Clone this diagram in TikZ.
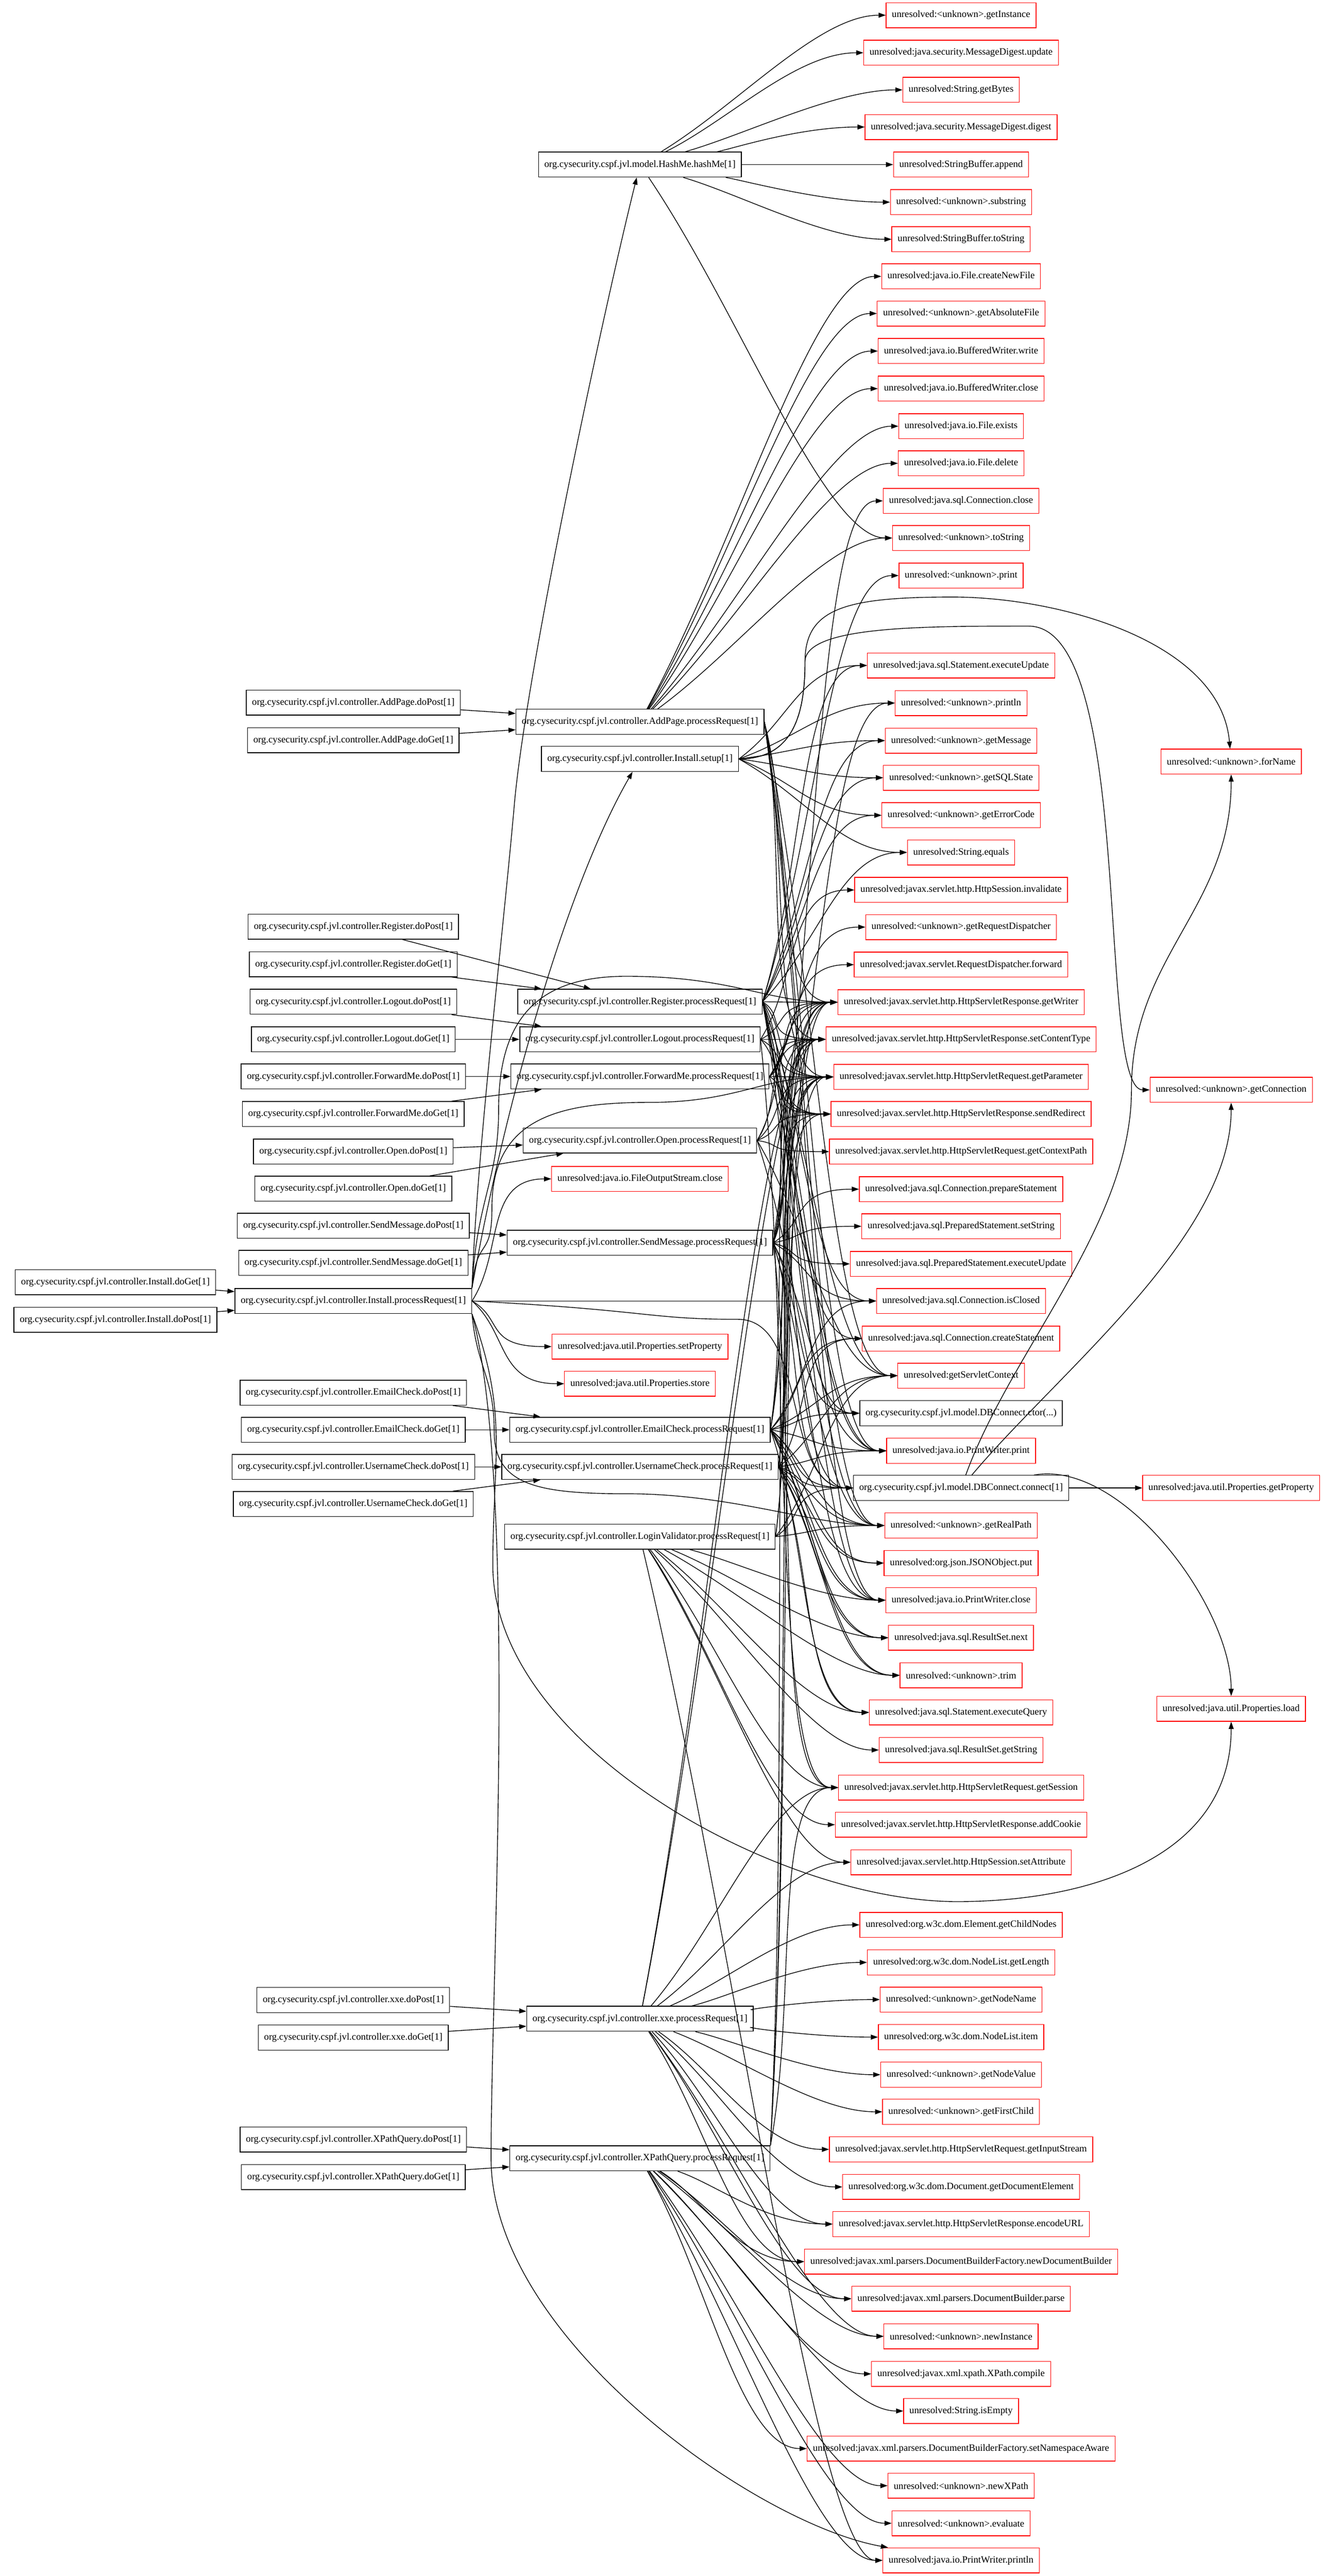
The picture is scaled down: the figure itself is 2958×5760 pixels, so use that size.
\documentclass[tikz,border=0pt]{standalone}
\usepackage{fontspec}
\setmainfont{Liberation Serif}
\usetikzlibrary{arrows.meta,calc}

\begin{document}
\begin{tikzpicture}[x=0.5pt,y=-0.5pt,
  fn/.style={draw,line width=0.8pt,minimum height=28pt,inner xsep=6.5pt,inner ysep=0pt,font=\fontsize{10.8}{13}\selectfont},
  ext/.style={fn,draw=red},
  arr/.style={line width=0.8pt,-{Triangle[length=8pt,width=5.5pt]}},
  call/.style={arr,to path={.. controls ($(\tikztostart)!0.4!(\tikztotarget.west)$) and ($(\tikztotarget.west)+(-150,0)$) .. (\tikztotarget)}}]
\useasboundingbox (0,0) rectangle (2958,5760);

\node[fn] (instget) at (258,2867) {org.cysecurity.cspf.jvl.controller.Install.doGet[1]};
\node[fn] (instpost) at (258,2951) {org.cysecurity.cspf.jvl.controller.Install.doPost[1]};

\node[fn] (addpost) at (790,1571) {org.cysecurity.cspf.jvl.controller.AddPage.doPost[1]};
\node[fn] (addget) at (790,1655) {org.cysecurity.cspf.jvl.controller.AddPage.doGet[1]};
\node[fn] (regpost) at (790,2072) {org.cysecurity.cspf.jvl.controller.Register.doPost[1]};
\node[fn] (regget) at (790,2156) {org.cysecurity.cspf.jvl.controller.Register.doGet[1]};
\node[fn] (logpost) at (790,2240) {org.cysecurity.cspf.jvl.controller.Logout.doPost[1]};
\node[fn] (logget) at (790,2324) {org.cysecurity.cspf.jvl.controller.Logout.doGet[1]};
\node[fn] (fwdpost) at (790,2407) {org.cysecurity.cspf.jvl.controller.ForwardMe.doPost[1]};
\node[fn] (fwdget) at (790,2491) {org.cysecurity.cspf.jvl.controller.ForwardMe.doGet[1]};
\node[fn] (openpost) at (790,2575) {org.cysecurity.cspf.jvl.controller.Open.doPost[1]};
\node[fn] (openget) at (790,2658) {org.cysecurity.cspf.jvl.controller.Open.doGet[1]};
\node[fn] (sendpost) at (790,2741) {org.cysecurity.cspf.jvl.controller.SendMessage.doPost[1]};
\node[fn] (sendget) at (790,2824) {org.cysecurity.cspf.jvl.controller.SendMessage.doGet[1]};
\node[fn] (instpr) at (790,2909) {org.cysecurity.cspf.jvl.controller.Install.processRequest[1]};
\node[fn] (emailpost) at (790,3114) {org.cysecurity.cspf.jvl.controller.EmailCheck.doPost[1]};
\node[fn] (emailget) at (790,3197) {org.cysecurity.cspf.jvl.controller.EmailCheck.doGet[1]};
\node[fn] (userpost) at (790,3280) {org.cysecurity.cspf.jvl.controller.UsernameCheck.doPost[1]};
\node[fn] (userget) at (790,3363) {org.cysecurity.cspf.jvl.controller.UsernameCheck.doGet[1]};
\node[fn] (xxepost) at (790,4472) {org.cysecurity.cspf.jvl.controller.xxe.doPost[1]};
\node[fn] (xxeget) at (790,4556) {org.cysecurity.cspf.jvl.controller.xxe.doGet[1]};
\node[fn] (xpathpost) at (790,4784) {org.cysecurity.cspf.jvl.controller.XPathQuery.doPost[1]};
\node[fn] (xpathget) at (790,4868) {org.cysecurity.cspf.jvl.controller.XPathQuery.doGet[1]};

\node[fn] (hash) at (1431,368) {org.cysecurity.cspf.jvl.model.HashMe.hashMe[1]};
\node[fn] (addpr) at (1431,1614) {org.cysecurity.cspf.jvl.controller.AddPage.processRequest[1]};
\node[fn] (setup) at (1431,1697) {org.cysecurity.cspf.jvl.controller.Install.setup[1]};
\node[fn] (regpr) at (1431,2240) {org.cysecurity.cspf.jvl.controller.Register.processRequest[1]};
\node[fn] (logpr) at (1431,2324) {org.cysecurity.cspf.jvl.controller.Logout.processRequest[1]};
\node[fn] (fwdpr) at (1431,2407) {org.cysecurity.cspf.jvl.controller.ForwardMe.processRequest[1]};
\node[fn] (openpr) at (1431,2550) {org.cysecurity.cspf.jvl.controller.Open.processRequest[1]};
\node[ext] (fosc) at (1431,2636) {unresolved:java.io.FileOutputStream.close};
\node[fn] (sendpr) at (1431,2779) {org.cysecurity.cspf.jvl.controller.SendMessage.processRequest[1]};
\node[ext] (setprop) at (1431,3011) {unresolved:java.util.Properties.setProperty};
\node[ext] (store) at (1431,3094) {unresolved:java.util.Properties.store};
\node[fn] (emailpr) at (1431,3197) {org.cysecurity.cspf.jvl.controller.EmailCheck.processRequest[1]};
\node[fn] (userpr) at (1431,3280) {org.cysecurity.cspf.jvl.controller.UsernameCheck.processRequest[1]};
\node[fn] (loginpr) at (1431,3436) {org.cysecurity.cspf.jvl.controller.LoginValidator.processRequest[1]};
\node[fn] (xxepr) at (1431,4514) {org.cysecurity.cspf.jvl.controller.xxe.processRequest[1]};
\node[fn] (xpathpr) at (1431,4826) {org.cysecurity.cspf.jvl.controller.XPathQuery.processRequest[1]};

\node[ext] (gi) at (2149,34) {unresolved:<unknown>.getInstance};
\node[ext] (mdu) at (2149,118) {unresolved:java.security.MessageDigest.update};
\node[ext] (gb) at (2149,201) {unresolved:String.getBytes};
\node[ext] (mdd) at (2149,284) {unresolved:java.security.MessageDigest.digest};
\node[ext] (sba) at (2149,368) {unresolved:StringBuffer.append};
\node[ext] (sub) at (2149,452) {unresolved:<unknown>.substring};
\node[ext] (sbt) at (2149,535) {unresolved:StringBuffer.toString};
\node[ext] (fcn) at (2149,618) {unresolved:java.io.File.createNewFile};
\node[ext] (gaf) at (2149,701) {unresolved:<unknown>.getAbsoluteFile};
\node[ext] (bww) at (2149,785) {unresolved:java.io.BufferedWriter.write};
\node[ext] (bwc) at (2149,869) {unresolved:java.io.BufferedWriter.close};
\node[ext] (fex) at (2149,953) {unresolved:java.io.File.exists};
\node[ext] (fdel) at (2149,1036) {unresolved:java.io.File.delete};
\node[ext] (ccl) at (2149,1120) {unresolved:java.sql.Connection.close};
\node[ext] (uts) at (2149,1203) {unresolved:<unknown>.toString};
\node[ext] (upr) at (2149,1287) {unresolved:<unknown>.print};
\node[ext] (seu) at (2149,1488) {unresolved:java.sql.Statement.executeUpdate};
\node[ext] (upl) at (2149,1572) {unresolved:<unknown>.println};
\node[ext] (gmsg) at (2149,1656) {unresolved:<unknown>.getMessage};
\node[ext] (gsql) at (2149,1739) {unresolved:<unknown>.getSQLState};
\node[ext] (gerr) at (2149,1823) {unresolved:<unknown>.getErrorCode};
\node[ext] (seq) at (2149,1906) {unresolved:String.equals};
\node[ext] (hsi) at (2149,1990) {unresolved:javax.servlet.http.HttpSession.invalidate};
\node[ext] (grd) at (2149,2073) {unresolved:<unknown>.getRequestDispatcher};
\node[ext] (rdf) at (2149,2157) {unresolved:javax.servlet.RequestDispatcher.forward};
\node[ext] (gwr) at (2149,2241) {unresolved:javax.servlet.http.HttpServletResponse.getWriter};
\node[ext] (sct) at (2149,2324) {unresolved:javax.servlet.http.HttpServletResponse.setContentType};
\node[ext] (gpar) at (2149,2408) {unresolved:javax.servlet.http.HttpServletRequest.getParameter};
\node[ext] (srd) at (2149,2491) {unresolved:javax.servlet.http.HttpServletResponse.sendRedirect};
\node[ext] (gcp) at (2149,2575) {unresolved:javax.servlet.http.HttpServletRequest.getContextPath};
\node[ext] (cps) at (2149,2659) {unresolved:java.sql.Connection.prepareStatement};
\node[ext] (pss) at (2149,2742) {unresolved:java.sql.PreparedStatement.setString};
\node[ext] (pseu) at (2149,2826) {unresolved:java.sql.PreparedStatement.executeUpdate};
\node[ext] (cic) at (2149,2909) {unresolved:java.sql.Connection.isClosed};
\node[ext] (ccs) at (2149,2993) {unresolved:java.sql.Connection.createStatement};
\node[ext] (gsc) at (2149,3076) {unresolved:getServletContext};
\node[fn] (dbc) at (2149,3160) {org.cysecurity.cspf.jvl.model.DBConnect.ctor(...)};
\node[ext] (pwp) at (2149,3244) {unresolved:java.io.PrintWriter.print};
\node[fn] (dbconn) at (2149,3327) {org.cysecurity.cspf.jvl.model.DBConnect.connect[1]};
\node[ext] (grp) at (2149,3411) {unresolved:<unknown>.getRealPath};
\node[ext] (jput) at (2149,3495) {unresolved:org.json.JSONObject.put};
\node[ext] (pwc) at (2149,3578) {unresolved:java.io.PrintWriter.close};
\node[ext] (rsn) at (2149,3662) {unresolved:java.sql.ResultSet.next};
\node[ext] (trim) at (2149,3746) {unresolved:<unknown>.trim};
\node[ext] (sxq) at (2149,3829) {unresolved:java.sql.Statement.executeQuery};
\node[ext] (rsg) at (2149,3913) {unresolved:java.sql.ResultSet.getString};
\node[ext] (gses) at (2149,3997) {unresolved:javax.servlet.http.HttpServletRequest.getSession};
\node[ext] (acook) at (2149,4080) {unresolved:javax.servlet.http.HttpServletResponse.addCookie};
\node[ext] (hssa) at (2149,4164) {unresolved:javax.servlet.http.HttpSession.setAttribute};
\node[ext] (gcn) at (2149,4304) {unresolved:org.w3c.dom.Element.getChildNodes};
\node[ext] (ngl) at (2149,4388) {unresolved:org.w3c.dom.NodeList.getLength};
\node[ext] (gnn) at (2149,4471) {unresolved:<unknown>.getNodeName};
\node[ext] (nli) at (2149,4555) {unresolved:org.w3c.dom.NodeList.item};
\node[ext] (gnv) at (2149,4639) {unresolved:<unknown>.getNodeValue};
\node[ext] (gfc) at (2149,4722) {unresolved:<unknown>.getFirstChild};
\node[ext] (gis) at (2149,4806) {unresolved:javax.servlet.http.HttpServletRequest.getInputStream};
\node[ext] (gde) at (2149,4890) {unresolved:org.w3c.dom.Document.getDocumentElement};
\node[ext] (eurl) at (2149,4973) {unresolved:javax.servlet.http.HttpServletResponse.encodeURL};
\node[ext] (ndb) at (2149,5057) {unresolved:javax.xml.parsers.DocumentBuilderFactory.newDocumentBuilder};
\node[ext] (dbp) at (2149,5140) {unresolved:javax.xml.parsers.DocumentBuilder.parse};
\node[ext] (nin) at (2149,5224) {unresolved:<unknown>.newInstance};
\node[ext] (xpc) at (2149,5308) {unresolved:javax.xml.xpath.XPath.compile};
\node[ext] (sie) at (2149,5391) {unresolved:String.isEmpty};
\node[ext] (sna) at (2149,5475) {unresolved:javax.xml.parsers.DocumentBuilderFactory.setNamespaceAware};
\node[ext] (nxp) at (2149,5558) {unresolved:<unknown>.newXPath};
\node[ext] (eva) at (2149,5642) {unresolved:<unknown>.evaluate};
\node[ext] (pwl) at (2149,5725) {unresolved:java.io.PrintWriter.println};

\node[ext] (forname) at (2753,1703) {unresolved:<unknown>.forName};
\node[ext] (getconn) at (2753,2437) {unresolved:<unknown>.getConnection};
\node[ext] (getprop) at (2753,3327) {unresolved:java.util.Properties.getProperty};
\node[ext] (propload) at (2753,3821) {unresolved:java.util.Properties.load};

\coordinate (gaprise) at (1800,1480);
\coordinate (fngap) at (2130,1335);
\coordinate (conngap) at (2300,1400);
\coordinate (fnbend) at (2530,2437);
\coordinate (hashbend) at (1150,1800);
\coordinate (wrbend) at (1115,2480);
\coordinate (wrtop) at (1400,2183);
\coordinate (parbend) at (1100,2700);
\coordinate (partop) at (1450,2465);
\coordinate (dbbend) at (1650,2950);
\coordinate (rpbend) at (1105,3200);
\coordinate (rplow) at (1400,3340);
\coordinate (loadbend) at (1102,3500);
\coordinate (loadgap) at (2140,4252);
\coordinate (plbend) at (1098,4826);

\foreach \src/\dst in {instget/instpr,instpost/instpr,addpost/addpr,addget/addpr,regpost/regpr,regget/regpr,
  logpost/logpr,logget/logpr,fwdpost/fwdpr,fwdget/fwdpr,openpost/openpr,openget/openpr,sendpost/sendpr,
  sendget/sendpr,emailpost/emailpr,emailget/emailpr,userpost/userpr,userget/userpr,xxepost/xxepr,
  xxeget/xxepr,xpathpost/xpathpr,xpathget/xpathpr}
  \draw[arr] (\src) -- (\dst);

\foreach \dst in {gi,mdu,gb,mdd,sba,sub,sbt,uts}
  \draw[call] (hash) to (\dst);
\foreach \dst in {fcn,gaf,bww,bwc,fex,fdel,uts}
  \draw[call] (addpr) to (\dst);
\foreach \dst in {gpar,sct,gwr,gsc,grp,pwp,pwc}
  \draw[call] (addpr.east) to (\dst);
\foreach \dst in {seu,upl,gmsg,gsql,gerr,seq}
  \draw[call] (setup.east) to (\dst);
\foreach \dst in {upr,seu,gmsg,gsql,gerr,seq,gpar,gwr,sct,srd,dbc,dbconn,cic,ccs,pwp,pwc,gsc,grp}
  \draw[call] (regpr.east) to (\dst);
\foreach \dst in {hsi,gses,srd,gwr,sct,gpar}
  \draw[call] (logpr.east) to (\dst);
\foreach \dst in {grd,rdf,gpar,gwr,sct,srd,pwp}
  \draw[call] (fwdpr.east) to (\dst);
\foreach \dst in {gpar,gcp,srd,gwr,sct,gsc,grp}
  \draw[call] (openpr.east) to (\dst);
\foreach \dst in {ccl,upl,gpar,cps,pss,pseu,cic,dbc,dbconn,gwr,sct,srd,pwp,pwc,gses}
  \draw[call] (sendpr.east) to (\dst);
\foreach \dst in {gpar,dbc,dbconn,cic,ccs,sxq,rsn,jput,trim,gwr,sct,pwp,pwc,gsc,grp}
  \draw[call] (emailpr.east) to (\dst);
\foreach \dst in {gpar,dbconn,ccs,sxq,rsn,jput,trim,gwr,sct,pwp,pwc,gsc,grp}
  \draw[call] (userpr.east) to (\dst);
\foreach \dst in {trim,sxq,rsn,rsg,gses,acook,hssa,pwc,pwl}
  \draw[call] (loginpr) to (\dst);
\foreach \dst in {gpar,dbconn,srd,gsc,grp}
  \draw[call] (loginpr.east) to (\dst);
\foreach \dst in {gcn,ngl,gnn,nli,gnv,gfc,gis,gde,eurl,ndb,dbp,nin,gwr,sct,gses,hssa}
  \draw[call] (xxepr) to (\dst);
\foreach \dst in {eurl,ndb,dbp,nin,xpc,sie,sna,nxp,eva,pwl}
  \draw[call] (xpathpr) to (\dst);
\foreach \dst in {gpar,gwr,sct,gses}
  \draw[call] (xpathpr.north east) to (\dst);
\foreach \dst in {fosc,setprop,store,cic}
  \draw[call] (instpr.east) to (\dst);

\draw[arr] (instpr.north east) to[out=80,in=-120,out distance=200pt,in distance=150pt] (setup);
\draw[arr] (instpr.north east) to[out=88,in=-95,out distance=150pt,in distance=150pt] (hashbend)
  to[out=85,in=-104,out distance=150pt,in distance=150pt] (hash);
\draw[arr] (instpr.north east) to[out=87,in=-90,out distance=100pt,in distance=80pt] (wrbend)
  to[out=90,in=180,out distance=100pt,in distance=100pt] (wrtop)
  to[out=0,in=180,out distance=120pt,in distance=80pt] (gwr);
\draw[arr] (instpr.north east) to[out=85,in=-90,out distance=60pt,in distance=60pt] (parbend)
  to[out=90,in=180,out distance=100pt,in distance=100pt] (partop)
  to[out=0,in=180,out distance=100pt,in distance=80pt] (gpar);
\draw[arr] (instpr.east) to[out=-3,in=180,out distance=200pt,in distance=100pt] (dbbend)
  to[out=0,in=180,out distance=80pt,in distance=80pt] (dbconn);
\draw[arr] (instpr.south east) to[out=-85,in=90,out distance=60pt,in distance=60pt] (rpbend)
  to[out=-90,in=180,out distance=60pt,in distance=100pt] (rplow)
  to[out=0,in=180,out distance=120pt,in distance=80pt] (grp);
\draw[arr] (instpr.south east) to[out=-70,in=90,out distance=120pt,in distance=120pt] (loadbend)
  to[out=-90,in=180,out distance=200pt,in distance=200pt] (loadgap)
  to[out=0,in=-90,out distance=150pt,in distance=150pt] (propload);
\draw[arr] (instpr.south east) to[out=-75,in=90,out distance=200pt,in distance=200pt] (plbend)
  to[out=-90,in=170,out distance=200pt,in distance=150pt] (pwl);
\draw[arr] (setup.east) to[out=0,in=-90,out distance=60pt,in distance=60pt] (gaprise)
  to[out=90,in=180,out distance=60pt,in distance=120pt] (fngap)
  to[out=0,in=95,out distance=120pt,in distance=120pt] (forname);
\draw[arr] (setup.east) to[out=0,in=-90,out distance=60pt,in distance=60pt] (gaprise)
  to[out=90,in=180,out distance=40pt,in distance=120pt] (conngap)
  to[out=0,in=180,out distance=120pt,in distance=60pt] (getconn);
\draw[arr] (dbconn) -- (getprop);
\draw[arr] (dbconn) to[out=10,in=90,out distance=100pt,in distance=100pt] (propload);
\draw[arr] (dbconn) to[out=50,in=-90,out distance=150pt,in distance=150pt] (getconn);
\draw[arr] (dbconn) to[out=70,in=-90,out distance=150pt,in distance=150pt] (fnbend)
  to[out=90,in=-90,out distance=150pt,in distance=150pt] (forname);
\end{tikzpicture}
\end{document}
